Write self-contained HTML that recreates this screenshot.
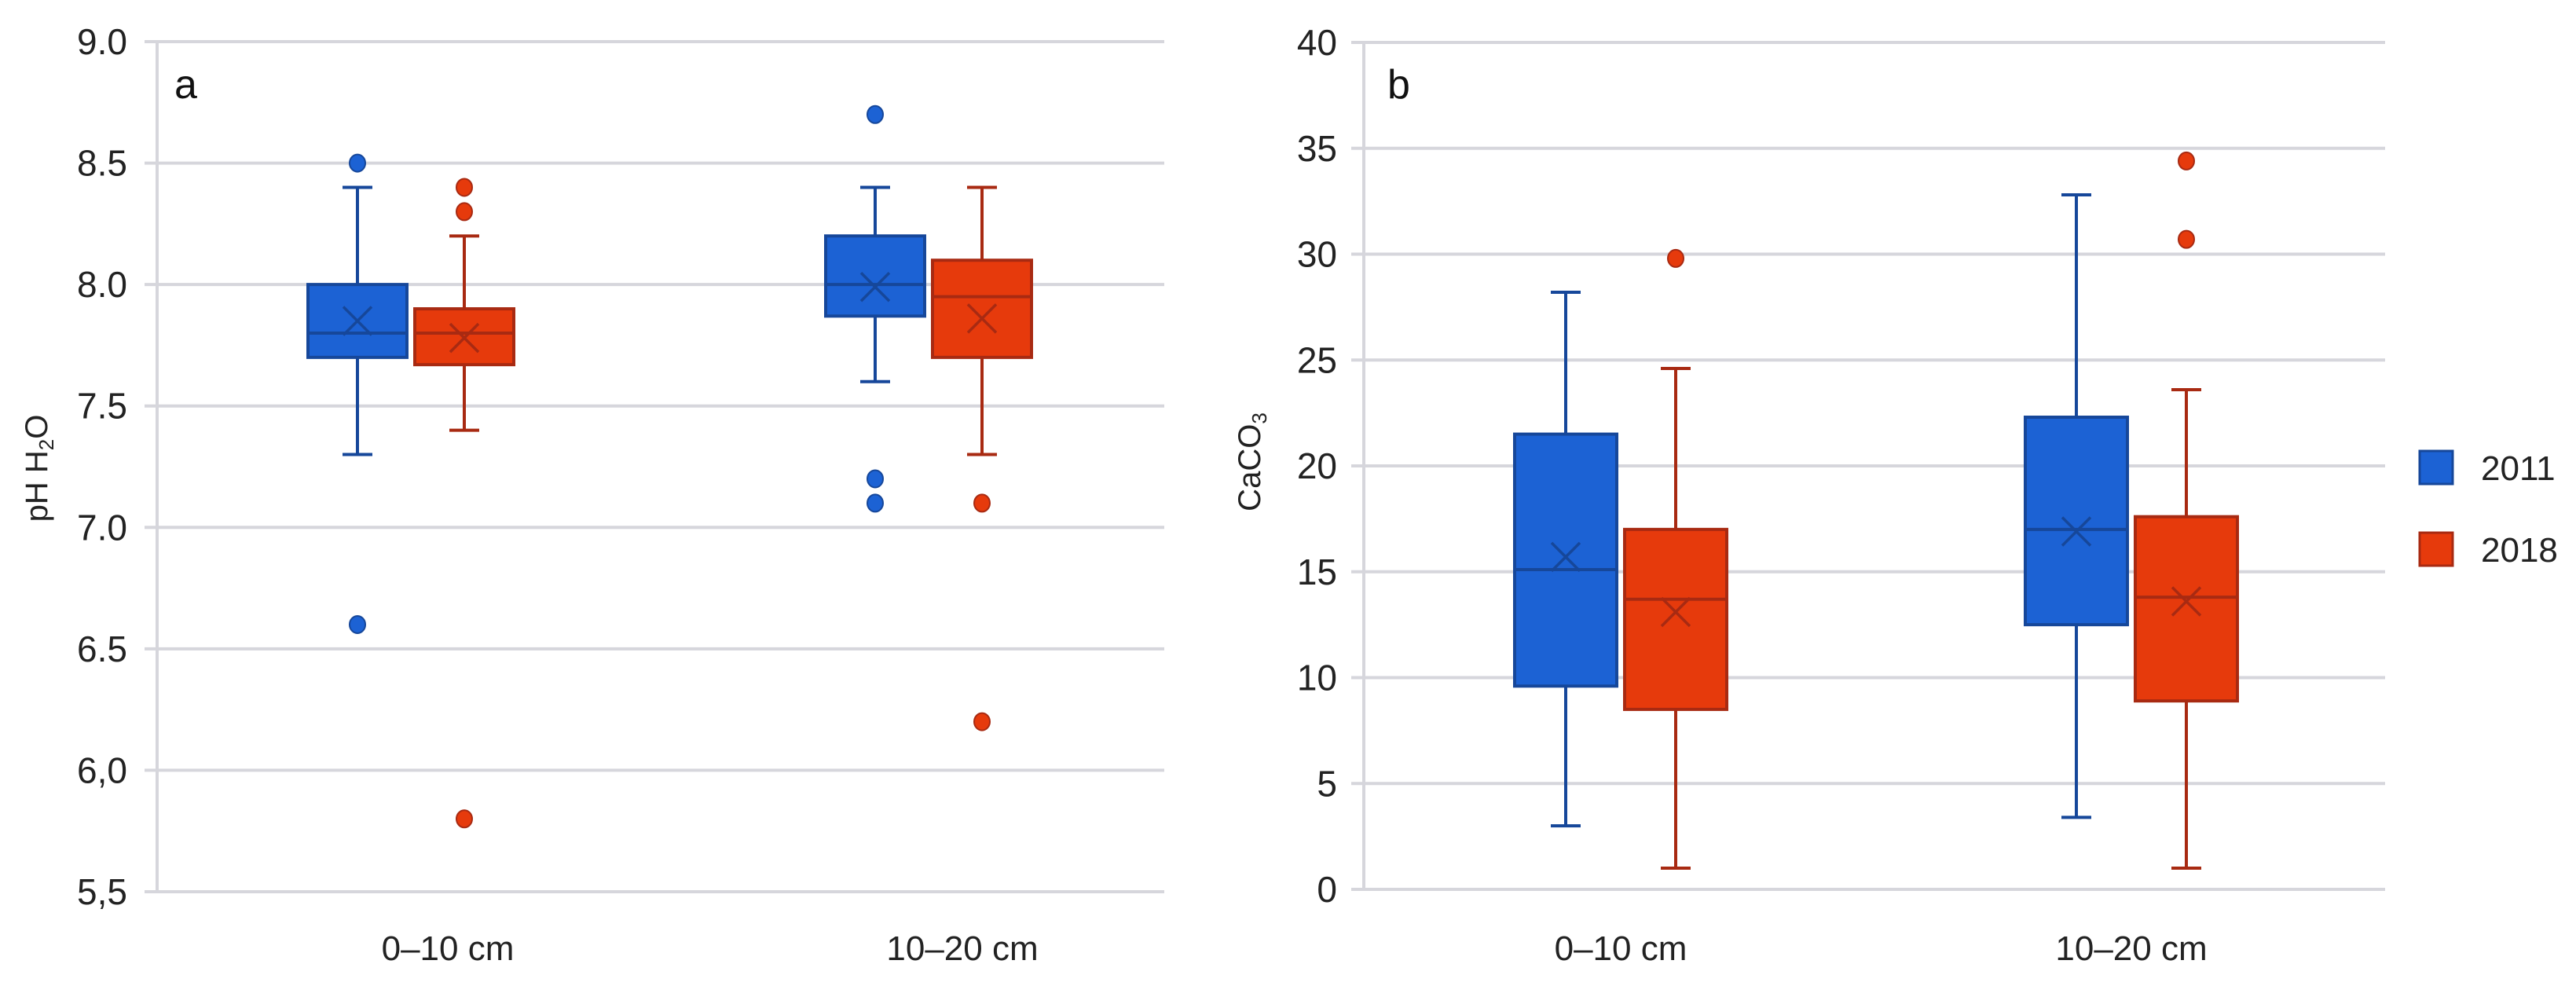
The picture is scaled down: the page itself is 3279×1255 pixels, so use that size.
<!DOCTYPE html>
<html><head><meta charset="utf-8"><style>
html,body{margin:0;padding:0;background:#fff;}
svg{display:block;font-family:"Liberation Sans",sans-serif;}
</style></head><body>
<svg id="chart" width="3279" height="1255" viewBox="0 0 3279 1255" xmlns="http://www.w3.org/2000/svg">
<g id="pa"></g>
<g id="pb"></g>
<text x="60" y="596" font-size="40" fill="#222" text-anchor="middle" transform="rotate(-90 60 596)">pH H<tspan font-size="26" dy="8">2</tspan><tspan dy="-8">O</tspan></text>
<text x="1604" y="588" font-size="40" fill="#222" text-anchor="middle" transform="rotate(-90 1604 588)">CaCO<tspan font-size="26" dy="8">3</tspan></text>
<text x="222" y="125" font-size="52" fill="#111">a</text>
<text x="1766" y="125" font-size="52" fill="#111">b</text>
<g>
<rect x="3080" y="574" width="42" height="42" fill="#1c62d4" stroke="#16479a" stroke-width="3"/>
<text x="3158" y="611" font-size="44" fill="#222">2011</text>
<rect x="3080" y="678" width="42" height="42" fill="#e63a0c" stroke="#a82a12" stroke-width="3"/>
<text x="3158" y="715" font-size="44" fill="#222">2018</text>
</g>
</svg>
<script>
const categories = ["0–10 cm", "10–20 cm"];
const seriesNames = ["2011", "2018"];
// panel a: [min, q1, median, q3, max, mean]
const phStats2011 = [[7.3, 7.7, 7.8, 8.0, 8.4, 7.85], [7.6, 7.87, 8.0, 8.2, 8.4, 7.99]];
const phStats2018 = [[7.4, 7.67, 7.8, 7.9, 8.2, 7.78], [7.3, 7.7, 7.95, 8.1, 8.4, 7.86]];
const phOut2011 = [[8.5, 6.6], [8.7, 7.2, 7.1]];
const phOut2018 = [[8.4, 8.3, 5.8], [7.1, 6.2]];
const phTicks = [5.5, 6.0, 6.5, 7.0, 7.5, 8.0, 8.5, 9.0];
const phTickLabels = ["5,5", "6,0", "6.5", "7.0", "7.5", "8.0", "8.5", "9.0"];
// panel b
const caStats2011 = [[3.0, 9.6, 15.1, 21.5, 28.2, 15.7], [3.4, 12.5, 17.0, 22.3, 32.8, 16.9]];
const caStats2018 = [[1.0, 8.5, 13.7, 17.0, 24.6, 13.1], [1.0, 8.9, 13.8, 17.6, 23.6, 13.6]];
const caOut2011 = [[], []];
const caOut2018 = [[29.8], [34.4, 30.7]];
const caTicks = [0, 5, 10, 15, 20, 25, 30, 35, 40];
const caTickLabels = ["0", "5", "10", "15", "20", "25", "30", "35", "40"];

const NS = "http://www.w3.org/2000/svg";
function mk(parent, tag, attrs) {
  const e = document.createElementNS(NS, tag);
  for (const k in attrs) e.setAttribute(k, attrs[k]);
  parent.appendChild(e);
  return e;
}
const COLORS = [{fill:"#1c62d4", stroke:"#16479a"}, {fill:"#e63a0c", stroke:"#a82a12"}];

function drawPanel(g, cfg) {
  const y = v => cfg.y0 + (v - cfg.vmin) / (cfg.vmax - cfg.vmin) * (cfg.y1 - cfg.y0);
  cfg.ticks.forEach((t, i) => {
    const gl = mk(g, "line", {x1: cfg.xl - 16, x2: cfg.xr, y1: y(t), y2: y(t), stroke: "#d6d6dc", "stroke-width": 4});
    
    
    const tl = mk(g, "text", {x: cfg.labelX, y: y(t) + 16, "font-size": 46, fill: "#222", "text-anchor": "end"});
    tl.textContent = cfg.tickLabels[i];
    
    
  });
  const ax = mk(g, "line", {x1: cfg.xl, x2: cfg.xl, y1: y(cfg.vmax), y2: y(cfg.vmin), stroke: "#d6d6dc", "stroke-width": 4});
  
  
  categories.forEach((c, ci) => {
    const cx = cfg.cat0 + cfg.step * ci;
    const cl = mk(g, "text", {x: cfg.lab0 + cfg.labStep * ci, y: 1222, "font-size": 44, fill: "#222", "text-anchor": "middle"});
    cl.textContent = c;
    
    
    [cfg.s2011, cfg.s2018].forEach((S, si) => {
      const st = S[ci];
      const bx = cx + (si === 0 ? -cfg.offset : cfg.offset);
      const col = COLORS[si];
      const bg = mk(g, "g", {});
      
      
      const w = cfg.bw;
      mk(bg, "line", {x1: bx, x2: bx, y1: y(st[4]), y2: y(st[0]), stroke: col.stroke, "stroke-width": 4});
      mk(bg, "line", {x1: bx - 19, x2: bx + 19, y1: y(st[4]), y2: y(st[4]), stroke: col.stroke, "stroke-width": 4});
      mk(bg, "line", {x1: bx - 19, x2: bx + 19, y1: y(st[0]), y2: y(st[0]), stroke: col.stroke, "stroke-width": 4});
      mk(bg, "rect", {x: bx - w / 2, y: y(st[3]), width: w, height: y(st[1]) - y(st[3]), fill: col.fill, stroke: col.stroke, "stroke-width": 4});
      mk(bg, "line", {x1: bx - w / 2, x2: bx + w / 2, y1: y(st[2]), y2: y(st[2]), stroke: col.stroke, "stroke-width": 4});
      const my = y(st[5]), m = 18;
      mk(bg, "path", {d: `M${bx-m},${my-m}L${bx+m},${my+m}M${bx+m},${my-m}L${bx-m},${my+m}`, stroke: col.stroke, "stroke-width": 3.5, fill: "none"});
      const outs = (si === 0 ? cfg.o2011 : cfg.o2018)[ci];
      outs.forEach(v => {
        const o = mk(g, "ellipse", {cx: bx, cy: y(v), rx: 10, ry: 11, fill: col.fill, stroke: col.stroke, "stroke-width": 2});
        
        
      });
    });
  });
}
drawPanel(document.getElementById("pa"), {
  xl: 200, xr: 1482, y0: 1135, y1: 53, vmin: 5.5, vmax: 9.0, labelX: 162,
  cat0: 523, step: 659, lab0: 570, labStep: 655,
  ticks: phTicks, tickLabels: phTickLabels, s2011: phStats2011, s2018: phStats2018,
  o2011: phOut2011, o2018: phOut2018, offset: 68, bw: 126
});
drawPanel(document.getElementById("pb"), {
  xl: 1736, xr: 3036, y0: 1132, y1: 54, vmin: 0, vmax: 40, labelX: 1702,
  cat0: 2063, step: 650, lab0: 2063, labStep: 650,
  ticks: caTicks, tickLabels: caTickLabels, s2011: caStats2011, s2018: caStats2018,
  o2011: caOut2011, o2018: caOut2018, offset: 70, bw: 130
});
</script>
</body></html>
